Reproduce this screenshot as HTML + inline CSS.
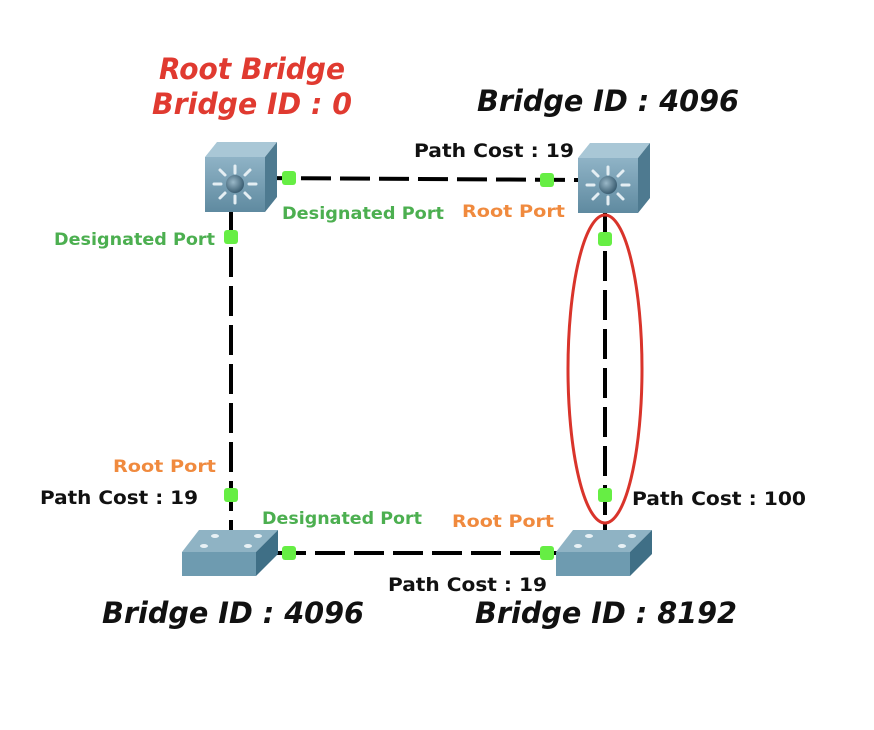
<!DOCTYPE html>
<html><head><meta charset="utf-8"><style>
html,body{margin:0;padding:0;background:#fff;}
svg{display:block;}
text{font-family:"DejaVu Sans","Liberation Sans",sans-serif;}
.g{fill:#4caf50;font-weight:bold;font-size:17px;}
.o{fill:#f08a3e;font-weight:bold;font-size:17px;}
.b{fill:#111;font-weight:bold;font-size:19px;}
.big{font-weight:bold;font-style:italic;font-size:29px;}
</style></head><body>
<svg width="874" height="730" viewBox="0 0 874 730" xmlns="http://www.w3.org/2000/svg">
<defs>
<linearGradient id="fr" x1="0" y1="0" x2="0" y2="1"><stop offset="0" stop-color="#8fb3c6"/><stop offset="1" stop-color="#5f8aa0"/></linearGradient>
<radialGradient id="ball" cx="0.4" cy="0.4" r="0.6"><stop offset="0" stop-color="#9ab8c8"/><stop offset="1" stop-color="#3c5f73"/></radialGradient>
<g id="ml">
<polygon points="0,15 12,0 72,0 60,15" fill="#a9c7d6"/>
<polygon points="60,15 72,0 72,55 60,70" fill="#4e7a90"/>
<rect x="0" y="15" width="60" height="55" fill="url(#fr)"/>
<g stroke="#e4eef3" stroke-width="3" stroke-linecap="round">
<line x1="30" y1="24" x2="30" y2="31"/><line x1="30" y1="54" x2="30" y2="61"/>
<line x1="9" y1="42" x2="16" y2="42"/><line x1="44" y1="42" x2="51" y2="42"/>
<line x1="15" y1="28" x2="20" y2="33"/><line x1="45" y1="28" x2="40" y2="33"/>
<line x1="15" y1="56" x2="20" y2="51"/><line x1="45" y1="56" x2="40" y2="51"/>
</g>
<circle cx="30" cy="42" r="9" fill="url(#ball)"/>
</g>
<g id="sw">
<polygon points="17,0 96,0 74,22 0,22" fill="#8fb3c4"/>
<polygon points="74,22 96,0 96,24 74,46" fill="#3f6f86"/>
<rect x="0" y="22" width="74" height="24" fill="#6e9bb0"/>
<g fill="#e8f1f5"><ellipse cx="33" cy="6" rx="4" ry="2"/><ellipse cx="76" cy="6" rx="4" ry="2"/><ellipse cx="22" cy="16" rx="4" ry="2"/><ellipse cx="66" cy="16" rx="4" ry="2"/></g>
</g>
</defs>
<g stroke="#000" stroke-width="4" stroke-dasharray="30 9" fill="none">
<line x1="262" y1="178" x2="580" y2="180"/>
<line x1="231" y1="208" x2="231" y2="532"/>
<line x1="605" y1="212" x2="605" y2="532"/>
<line x1="276" y1="553" x2="558" y2="553"/>
</g>
<use href="#ml" x="205" y="142"/>
<use href="#ml" x="578" y="143"/>
<use href="#sw" x="182" y="530"/>
<use href="#sw" x="556" y="530"/>
<ellipse cx="605" cy="369" rx="37" ry="154" fill="none" stroke="#d9342b" stroke-width="3"/>
<g fill="#66ee44">
<rect x="282" y="171" width="14" height="14" rx="3"/>
<rect x="540" y="173" width="14" height="14" rx="3"/>
<rect x="224" y="230" width="14" height="14" rx="3"/>
<rect x="598" y="232" width="14" height="14" rx="3"/>
<rect x="224" y="488" width="14" height="14" rx="3"/>
<rect x="598" y="488" width="14" height="14" rx="3"/>
<rect x="282" y="546" width="14" height="14" rx="3"/>
<rect x="540" y="546" width="14" height="14" rx="3"/>
</g>
<g lengthAdjust="spacingAndGlyphs">
<text class="big" fill="#e03a30" x="252" y="79" text-anchor="middle" textLength="186" lengthAdjust="spacingAndGlyphs">Root Bridge</text>
<text class="big" fill="#e03a30" x="252" y="114" text-anchor="middle" textLength="200" lengthAdjust="spacingAndGlyphs">Bridge ID : 0</text>
<text class="big" fill="#111" x="477" y="111" textLength="262" lengthAdjust="spacingAndGlyphs">Bridge ID : 4096</text>
<text class="big" fill="#111" x="102" y="623" textLength="262" lengthAdjust="spacingAndGlyphs">Bridge ID : 4096</text>
<text class="big" fill="#111" x="475" y="623" textLength="262" lengthAdjust="spacingAndGlyphs">Bridge ID : 8192</text>
<text class="b" x="414" y="157" textLength="160" lengthAdjust="spacingAndGlyphs">Path Cost : 19</text>
<text class="b" x="40" y="504" textLength="158" lengthAdjust="spacingAndGlyphs">Path Cost : 19</text>
<text class="b" x="632" y="505" textLength="174" lengthAdjust="spacingAndGlyphs">Path Cost : 100</text>
<text class="b" x="388" y="591" textLength="159" lengthAdjust="spacingAndGlyphs">Path Cost : 19</text>
<text class="g" x="282" y="219" textLength="162" lengthAdjust="spacingAndGlyphs">Designated Port</text>
<text class="g" x="54" y="245" textLength="161" lengthAdjust="spacingAndGlyphs">Designated Port</text>
<text class="g" x="262" y="524" textLength="160" lengthAdjust="spacingAndGlyphs">Designated Port</text>
<text class="o" x="462" y="217" textLength="103" lengthAdjust="spacingAndGlyphs">Root Port</text>
<text class="o" x="113" y="472" textLength="103" lengthAdjust="spacingAndGlyphs">Root Port</text>
<text class="o" x="452" y="527" textLength="102" lengthAdjust="spacingAndGlyphs">Root Port</text>
</g>
</svg>
</body></html>
